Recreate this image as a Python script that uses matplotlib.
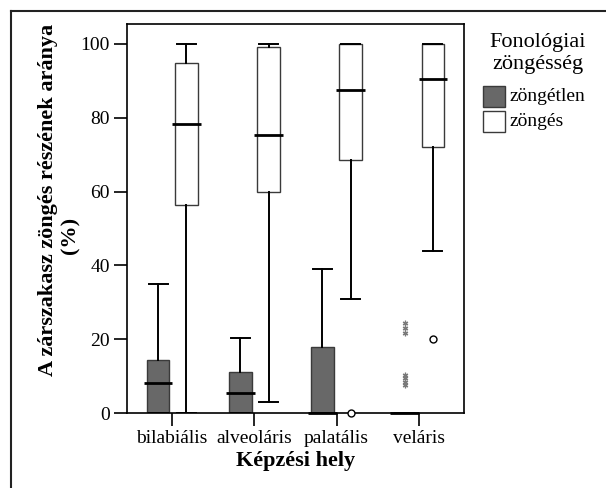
import matplotlib
matplotlib.use("Agg")
import matplotlib.pyplot as plt
from matplotlib.patches import Rectangle
from matplotlib.lines import Line2D

plt.rcParams['font.family'] = ['Liberation Serif', 'DejaVu Serif']

categories = ["bilabiális", "alveoláris", "palatális", "veláris"]
groups = ["zöngétlen", "zöngés"]

# zöngétlen (voiceless)
vl_q1 = [0.0, 0.0, 0.0, 0.0]
vl_med = [8.1, 5.4, 0.0, 0.0]
vl_q3 = [14.4, 11.1, 17.8, 0.0]
vl_lo = [0.0, 0.0, 0.0, 0.0]
vl_hi = [35.0, 20.3, 39.1, 0.0]
vl_extremes = [[], [], [], [24.3, 23.0, 21.6, 10.3, 9.4, 8.5, 7.6]]
vl_outliers = [[], [], [], []]

# zöngés (voiced)
vd_q1 = [56.3, 59.8, 68.5, 72.0]
vd_med = [78.3, 75.3, 87.4, 90.4]
vd_q3 = [94.8, 99.2, 100.0, 100.0]
vd_lo = [0.0, 3.0, 30.9, 44.0]
vd_hi = [100.0, 100.0, 100.0, 100.0]
vd_extremes = [[], [], [], []]
vd_outliers = [[], [], [0.0], [20.0]]

W, H = 606, 488
fig = plt.figure(figsize=(W / 100, H / 100), dpi=100)
ax = fig.add_axes([127 / W, 1 - 413 / H, (464 - 127) / W, (413 - 24) / H])

offset = 0.172
bw = 0.276
capw = 0.23
medw = 0.35

def stats(q1, med, q3, lo, hi):
    return [dict(q1=a, med=b, q3=c, whislo=d, whishi=e, fliers=[])
            for a, b, c, d, e in zip(q1, med, q3, lo, hi)]

series = [
    (vl_q1, vl_med, vl_q3, vl_lo, vl_hi, vl_extremes, vl_outliers, -offset, '#686868'),
    (vd_q1, vd_med, vd_q3, vd_lo, vd_hi, vd_extremes, vd_outliers, offset, '#ffffff'),
]
for q1, med, q3, lo, hi, ext, outl, off, fc in series:
    pos = [i + off for i in range(len(categories))]
    ax.bxp(stats(q1, med, q3, lo, hi), positions=pos, widths=bw, patch_artist=True,
           showfliers=False, manage_ticks=False,
           boxprops=dict(facecolor=fc, edgecolor='#3a3a3a', linewidth=1.0),
           whiskerprops=dict(color='black', linewidth=1.4),
           capprops=dict(color='black', linewidth=1.4),
           capwidths=capw,
           medianprops=dict(linewidth=0))
    ax.hlines(med, [p - medw / 2 for p in pos], [p + medw / 2 for p in pos],
              colors='black', linewidth=2.0, zorder=5, clip_on=False)
    for p, vals in zip(pos, ext):
        if vals:
            ax.plot([p] * len(vals), vals, linestyle='none', marker=(6, 2, 0),
                    markersize=4, color='#7a7a7a', markeredgewidth=0.9, zorder=6)
    for p, vals in zip(pos, outl):
        if vals:
            ax.plot([p] * len(vals), vals, linestyle='none', marker='o',
                    markersize=5, markerfacecolor='white', markeredgecolor='black',
                    markeredgewidth=1.0, zorder=6, clip_on=False)

ax.set_xlim(-0.55, 3.55)
ax.set_ylim(0, 105.4)
ax.set_xticks(range(len(categories)))
ax.set_xticklabels(categories, fontsize=14)
ax.set_yticks([0, 20, 40, 60, 80, 100])
ax.set_yticklabels(['0', '20', '40', '60', '80', '100'], fontsize=14)
ax.tick_params(axis='both', length=9.5, width=1.2, pad=3, color='black')
for s in ax.spines.values():
    s.set_linewidth(1.2)
    s.set_color('black')

fig.text(296 / W, 1 - 461 / H, "Képzési hely", ha='center', va='center',
         fontsize=16, fontweight='bold')
fig.text(48 / W, 1 - 200 / H, "A zárszakasz zöngés részének aránya", rotation=90,
         ha='center', va='center', fontsize=16, fontweight='bold')
fig.text(70 / W, 1 - 235 / H, "(%)", rotation=90,
         ha='center', va='center', fontsize=16, fontweight='bold')

# legend
fig.text(538 / W, 1 - 43 / H, "Fonológiai", ha='center', va='center', fontsize=16)
fig.text(538 / W, 1 - 65 / H, "zöngésség", ha='center', va='center', fontsize=16)
legend_colors = ['#686868', '#ffffff']
for k, (lab, c) in enumerate(zip(groups, legend_colors)):
    y0 = 86 + k * 24.7
    fig.patches.append(Rectangle((483 / W, 1 - (y0 + 21) / H), 22 / W, 21 / H,
                                 transform=fig.transFigure, facecolor=c,
                                 edgecolor='#3a3a3a', linewidth=1.0))
    fig.text(509 / W, 1 - (y0 + 10.5) / H, lab, ha='left', va='center', fontsize=14)

# outer frame (left and top edges)
fig.lines.append(Line2D([11 / W, 11 / W], [0, 1 - 11 / H], transform=fig.transFigure,
                        color='#222222', linewidth=1.5))
fig.lines.append(Line2D([11 / W, 1], [1 - 11 / H, 1 - 11 / H], transform=fig.transFigure,
                        color='#222222', linewidth=1.5))

fig.savefig("out.png", dpi=100)
